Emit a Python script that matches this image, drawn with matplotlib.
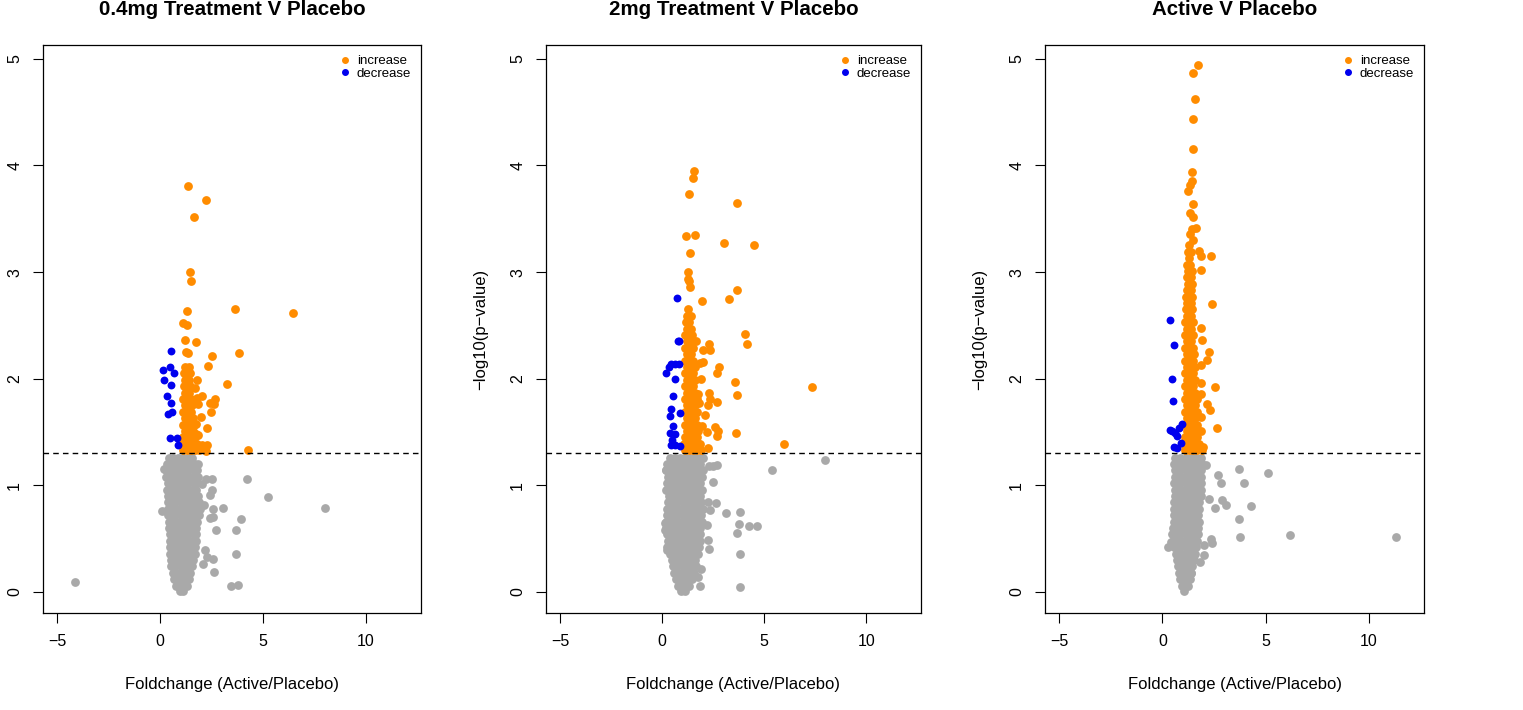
import matplotlib
matplotlib.use("Agg")
import matplotlib.pyplot as plt
from matplotlib.lines import Line2D

plt.rcParams['font.family'] = ['Liberation Sans', 'DejaVu Sans']

titles = ["0.4mg Treatment V Placebo", "2mg Treatment V Placebo", "Active V Placebo"]
xlabel = "Foldchange (Active/Placebo)"
ylabel = "\u2212log10(p\u2212value)"
x_ticks = [-5, 0, 5, 10]
y_ticks = [0, 1, 2, 3, 4, 5]
threshold = 1.301
legend_labels = ["increase", "decrease"]

# ---------------- Panel 1 : 0.4mg ----------------
p1_grey_rows = [
    (1.26, [0.45, 0.63, 0.88, 1.13, 1.38, 1.55]),
    (1.20, [0.35, 0.50, 0.75, 1.00, 1.25, 1.50, 1.70]),
    (1.14, [0.30, 0.38, 0.63, 0.88, 1.13, 1.38, 1.63, 1.80]),
    (1.08, [0.30, 0.50, 0.75, 1.00, 1.25, 1.50, 1.75, 1.85]),
    (1.02, [0.38, 0.63, 0.88, 1.13, 1.38, 1.63, 1.80]),
    (0.96, [0.35, 0.50, 0.75, 1.00, 1.25, 1.50, 1.75]),
    (0.90, [0.38, 0.63, 0.88, 1.13, 1.38, 1.63, 1.85]),
    (0.84, [0.40, 0.50, 0.75, 1.00, 1.25, 1.50, 1.75, 1.90]),
    (0.78, [0.40, 0.63, 0.88, 1.13, 1.38, 1.63, 1.88, 1.95]),
    (0.72, [0.40, 0.50, 0.75, 1.00, 1.25, 1.50, 1.75, 1.90]),
    (0.66, [0.45, 0.63, 0.88, 1.13, 1.38, 1.63, 1.80]),
    (0.60, [0.45, 0.50, 0.75, 1.00, 1.25, 1.50, 1.75]),
    (0.54, [0.50, 0.63, 0.88, 1.13, 1.38, 1.63, 1.75]),
    (0.48, [0.50, 0.75, 1.00, 1.25, 1.50, 1.75]),
    (0.42, [0.50, 0.63, 0.88, 1.13, 1.38, 1.63, 1.70]),
    (0.36, [0.50, 0.75, 1.00, 1.25, 1.50, 1.70]),
    (0.30, [0.55, 0.63, 0.88, 1.13, 1.38, 1.60]),
    (0.24, [0.55, 0.75, 1.00, 1.25, 1.50, 1.55]),
    (0.18, [0.65, 0.88, 1.13, 1.38, 1.45]),
    (0.12, [0.70, 0.75, 1.00, 1.25, 1.40]),
    (0.06, [0.80, 0.88, 1.13, 1.30]),
    (0.01, [0.95, 1.10]),
]
p1_grey_x = [-4.13, 4.22, 5.24, 8.00, 0.11, 3.04, 2.59, 3.93, 2.70, 3.70, 3.70, 2.62, 3.46, 3.79,
             2.20, 2.59, 2.27, 2.09, 2.51, 2.43, 2.02, 2.23, 2.54, 1.86, 0.18, 2.14, 2.56, 2.41]
p1_grey_y = [0.09, 1.06, 0.89, 0.79, 0.76, 0.79, 0.78, 0.68, 0.58, 0.58, 0.36, 0.19, 0.06, 0.07,
             0.39, 0.31, 0.33, 0.26, 0.96, 0.91, 1.01, 1.06, 1.06, 1.20, 1.15, 0.82, 0.70, 0.69]
p1_up_rows = [
    (1.33, [1.10, 1.30, 1.50, 1.70, 1.90]),
    (1.39, [1.05, 1.20, 1.40, 1.60, 1.80]),
    (1.45, [1.10, 1.30, 1.50, 1.70]),
    (1.51, [1.20, 1.40, 1.60]),
    (1.57, [1.10, 1.30, 1.50, 1.65]),
    (1.63, [1.20, 1.40, 1.60]),
    (1.69, [1.10, 1.30, 1.50]),
    (1.75, [1.20, 1.40, 1.55]),
    (1.81, [1.10, 1.30, 1.50]),
    (1.87, [1.20, 1.40]),
    (1.93, [1.15, 1.30, 1.45]),
    (1.99, [1.20, 1.40]),
    (2.05, [1.15, 1.30, 1.45]),
    (2.11, [1.20, 1.40]),
]
p1_up_x = [1.37, 2.23, 1.67, 1.46, 1.50, 1.29, 3.62, 6.47, 1.13, 1.33, 1.21, 1.75, 1.25, 1.37,
           3.82, 2.51, 2.31, 1.78, 3.27, 1.70, 2.05, 1.78, 2.67, 2.43, 2.64, 1.86, 2.46, 1.99,
           1.76, 2.28, 1.76, 1.83, 2.05, 2.27, 2.23, 4.27]
p1_up_y = [3.81, 3.68, 3.52, 3.00, 2.92, 2.64, 2.65, 2.62, 2.52, 2.50, 2.36, 2.34, 2.25, 2.24,
           2.24, 2.21, 2.12, 1.99, 1.95, 1.91, 1.84, 1.82, 1.81, 1.77, 1.76, 1.76, 1.69, 1.64,
           1.58, 1.54, 1.48, 1.47, 1.38, 1.38, 1.32, 1.33]
p1_down_x = [0.53, 0.50, 0.13, 0.69, 0.18, 0.52, 0.33, 0.55, 0.60, 0.40, 0.83, 0.50, 0.86]
p1_down_y = [2.26, 2.11, 2.08, 2.05, 1.99, 1.94, 1.84, 1.77, 1.69, 1.67, 1.44, 1.44, 1.38]

# ---------------- Panel 2 : 2mg ----------------
p2_grey_rows = [
    (1.26, [0.40, 0.63, 0.88, 1.13, 1.38, 1.63, 1.88, 2.00]),
    (1.20, [0.25, 0.50, 0.75, 1.00, 1.25, 1.50, 1.75, 1.85]),
    (1.14, [0.20, 0.38, 0.63, 0.88, 1.13, 1.38, 1.63, 1.88, 2.00]),
    (1.08, [0.30, 0.50, 0.75, 1.00, 1.25, 1.50, 1.75, 1.95]),
    (1.02, [0.25, 0.38, 0.63, 0.88, 1.13, 1.38, 1.63, 1.88]),
    (0.96, [0.20, 0.50, 0.75, 1.00, 1.25, 1.50, 1.75, 1.95]),
    (0.90, [0.35, 0.63, 0.88, 1.13, 1.38, 1.63, 1.88]),
    (0.84, [0.30, 0.50, 0.75, 1.00, 1.25, 1.50, 1.75, 1.90]),
    (0.78, [0.25, 0.38, 0.63, 0.88, 1.13, 1.38, 1.63, 1.88, 2.00]),
    (0.72, [0.25, 0.50, 0.75, 1.00, 1.25, 1.50, 1.75, 1.90]),
    (0.66, [0.20, 0.38, 0.63, 0.88, 1.13, 1.38, 1.63, 1.88, 1.95]),
    (0.60, [0.20, 0.50, 0.75, 1.00, 1.25, 1.50, 1.75, 1.85]),
    (0.54, [0.25, 0.38, 0.63, 0.88, 1.13, 1.38, 1.63, 1.85]),
    (0.48, [0.30, 0.50, 0.75, 1.00, 1.25, 1.50, 1.75, 1.85]),
    (0.42, [0.25, 0.38, 0.63, 0.88, 1.13, 1.38, 1.63, 1.80]),
    (0.36, [0.40, 0.50, 0.75, 1.00, 1.25, 1.50, 1.75]),
    (0.30, [0.50, 0.63, 0.88, 1.13, 1.38, 1.63]),
    (0.24, [0.55, 0.75, 1.00, 1.25, 1.50, 1.65]),
    (0.18, [0.60, 0.88, 1.13, 1.38, 1.55]),
    (0.12, [0.70, 0.75, 1.00, 1.25, 1.45]),
    (0.06, [0.80, 0.88, 1.13, 1.30]),
    (0.01, [0.95, 1.10]),
]
p2_grey_x = [7.96, 5.40, 2.67, 2.51, 2.30, 2.48, 2.65, 3.12, 3.80, 3.75, 4.26, 4.63, 3.66, 3.80,
             3.79, 1.88, 2.30, 2.23, 2.18, 2.23, 2.35, 1.91, 1.78, 0.19, 0.22, 0.16, 0.16, 0.25]
p2_grey_y = [1.24, 1.14, 1.19, 1.18, 1.18, 1.03, 0.83, 0.74, 0.75, 0.64, 0.62, 0.62, 0.55, 0.36,
             0.05, 0.06, 0.40, 0.49, 0.63, 0.84, 0.77, 0.22, 0.14, 1.14, 0.96, 0.65, 0.58, 0.39]
p2_up_rows = [
    (1.33, [1.10, 1.30, 1.50, 1.70, 1.90]),
    (1.39, [1.05, 1.20, 1.40, 1.60, 1.80]),
    (1.45, [1.10, 1.30, 1.50, 1.70]),
    (1.51, [1.20, 1.40, 1.60, 1.75]),
    (1.57, [1.10, 1.30, 1.50, 1.70]),
    (1.63, [1.20, 1.40, 1.60]),
    (1.69, [1.10, 1.30, 1.50, 1.70]),
    (1.75, [1.20, 1.40, 1.60]),
    (1.81, [1.10, 1.30, 1.50, 1.70]),
    (1.87, [1.20, 1.40, 1.60]),
    (1.93, [1.10, 1.30, 1.50]),
    (1.99, [1.20, 1.40, 1.60]),
    (2.05, [1.10, 1.30, 1.50]),
    (2.11, [1.20, 1.40, 1.60]),
    (2.17, [1.10, 1.30, 1.50]),
    (2.23, [1.20, 1.40]),
    (2.29, [1.10, 1.30, 1.50]),
    (2.35, [1.20, 1.40]),
    (2.41, [1.10, 1.30, 1.45]),
    (2.47, [1.20, 1.40]),
    (2.53, [1.15, 1.30]),
    (2.59, [1.20, 1.40]),
    (2.65, [1.25]),
]
p2_up_x = [1.54, 1.50, 1.33, 3.67, 1.18, 1.59, 3.04, 4.48, 1.39, 1.26, 1.25, 1.33, 1.38, 3.67,
           3.27, 1.96, 4.08, 4.16, 1.68, 2.31, 2.02, 2.36, 1.86, 1.99, 2.78, 2.68, 1.91, 3.58,
           7.35, 2.28, 3.67, 2.36, 2.67, 1.78, 1.81, 2.23, 2.12, 1.94, 2.59, 2.18, 2.75, 2.67,
           3.63, 2.23, 1.86, 5.96]
p2_up_y = [3.95, 3.88, 3.73, 3.65, 3.34, 3.35, 3.27, 3.25, 3.18, 3.00, 2.94, 2.92, 2.86, 2.83,
           2.75, 2.73, 2.42, 2.33, 2.35, 2.33, 2.27, 2.27, 2.15, 2.16, 2.11, 2.05, 2.00, 1.97,
           1.92, 1.87, 1.85, 1.81, 1.78, 1.86, 1.77, 1.75, 1.66, 1.56, 1.55, 1.50, 1.51, 1.46,
           1.49, 1.35, 1.39, 1.39]
p2_down_x = [0.73, 0.78, 0.84, 0.62, 0.45, 0.84, 0.33, 0.18, 0.62, 0.52, 0.44, 0.40, 0.86, 0.52,
             0.37, 0.63, 0.49, 0.45, 0.62, 0.86]
p2_down_y = [2.76, 2.35, 2.35, 2.14, 2.14, 2.14, 2.11, 2.05, 2.00, 1.84, 1.72, 1.65, 1.68, 1.56,
             1.49, 1.48, 1.43, 1.38, 1.38, 1.37]

# ---------------- Panel 3 : Active ----------------
p3_grey_rows = [
    (1.26, [0.63, 0.88, 1.13, 1.38, 1.63, 1.85]),
    (1.20, [0.55, 0.75, 1.00, 1.25, 1.50, 1.75, 1.90]),
    (1.14, [0.63, 0.88, 1.13, 1.38, 1.63, 1.85]),
    (1.08, [0.60, 0.75, 1.00, 1.25, 1.50, 1.75, 1.85]),
    (1.02, [0.55, 0.63, 0.88, 1.13, 1.38, 1.63, 1.85]),
    (0.96, [0.60, 0.75, 1.00, 1.25, 1.50, 1.75, 1.85]),
    (0.90, [0.63, 0.88, 1.13, 1.38, 1.63, 1.85]),
    (0.84, [0.55, 0.75, 1.00, 1.25, 1.50, 1.75, 1.80]),
    (0.78, [0.55, 0.63, 0.88, 1.13, 1.38, 1.63, 1.80]),
    (0.72, [0.55, 0.75, 1.00, 1.25, 1.50, 1.75]),
    (0.66, [0.55, 0.63, 0.88, 1.13, 1.38, 1.63, 1.80]),
    (0.60, [0.50, 0.75, 1.00, 1.25, 1.50, 1.75]),
    (0.54, [0.45, 0.63, 0.88, 1.13, 1.38, 1.63, 1.75]),
    (0.48, [0.50, 0.75, 1.00, 1.25, 1.50, 1.70]),
    (0.42, [0.55, 0.63, 0.88, 1.13, 1.38, 1.63]),
    (0.36, [0.65, 0.75, 1.00, 1.25, 1.50, 1.60]),
    (0.30, [0.70, 0.88, 1.13, 1.38, 1.55]),
    (0.24, [0.75, 1.00, 1.25, 1.45]),
    (0.18, [0.80, 0.88, 1.13, 1.38, 1.40]),
    (0.12, [0.85, 1.00, 1.25, 1.35]),
    (0.06, [0.95, 1.13, 1.25]),
    (0.01, [1.05]),
]
p3_grey_x = [3.69, 5.13, 2.70, 2.82, 3.95, 2.27, 2.90, 3.06, 2.53, 4.31, 3.69, 2.34, 2.42, 3.77,
             6.18, 11.33, 2.02, 2.02, 1.81, 0.28, 0.44, 2.10]
p3_grey_y = [1.15, 1.12, 1.10, 1.02, 1.02, 0.87, 0.86, 0.82, 0.79, 0.81, 0.68, 0.50, 0.46, 0.52,
             0.53, 0.52, 0.44, 0.35, 0.28, 0.42, 0.47, 1.19]
p3_up_rows = [
    (1.33, [1.10, 1.30, 1.50, 1.70, 1.90]),
    (1.39, [1.05, 1.20, 1.40, 1.60, 1.80]),
    (1.45, [1.10, 1.30, 1.50, 1.70]),
    (1.51, [1.20, 1.40, 1.60, 1.75]),
    (1.57, [1.10, 1.30, 1.50, 1.70]),
    (1.63, [1.20, 1.40, 1.60]),
    (1.69, [1.10, 1.30, 1.50, 1.70]),
    (1.75, [1.20, 1.40, 1.60]),
    (1.81, [1.10, 1.30, 1.50, 1.70]),
    (1.87, [1.20, 1.40, 1.60]),
    (1.93, [1.10, 1.30, 1.50]),
    (1.99, [1.20, 1.40, 1.60]),
    (2.05, [1.10, 1.30, 1.50]),
    (2.11, [1.20, 1.40, 1.60]),
    (2.17, [1.10, 1.30, 1.50]),
    (2.23, [1.20, 1.40, 1.55]),
    (2.29, [1.10, 1.30, 1.50]),
    (2.35, [1.20, 1.40]),
    (2.41, [1.10, 1.30, 1.50]),
    (2.47, [1.20, 1.40]),
    (2.53, [1.10, 1.30, 1.50]),
    (2.59, [1.20, 1.40]),
    (2.65, [1.15, 1.30, 1.45]),
    (2.71, [1.20, 1.40]),
    (2.77, [1.15, 1.30, 1.45]),
    (2.83, [1.20, 1.40]),
    (2.89, [1.25, 1.45]),
    (2.95, [1.20, 1.40]),
    (3.01, [1.25, 1.45]),
    (3.07, [1.20, 1.35]),
    (3.13, [1.30]),
    (3.19, [1.25, 1.40]),
    (3.25, [1.30]),
]
p3_up_x = [1.75, 1.50, 1.57, 1.50, 1.50, 1.44, 1.42, 1.33, 1.26, 1.49, 1.34, 1.50, 1.42, 1.62,
           1.33, 1.49, 1.78, 1.86, 2.36, 1.86, 2.41, 1.89, 1.91, 2.27, 2.18, 1.89, 2.56, 1.89,
           1.86, 2.15, 2.33, 2.63, 1.89, 1.97, 1.86]
p3_up_y = [4.94, 4.87, 4.62, 4.44, 4.15, 3.94, 3.85, 3.82, 3.76, 3.64, 3.55, 3.52, 3.40, 3.41,
           3.36, 3.30, 3.20, 3.15, 3.15, 3.02, 2.70, 2.48, 2.36, 2.25, 2.18, 2.13, 1.92, 1.96,
           1.86, 1.76, 1.71, 1.54, 1.51, 1.36, 1.64]
p3_down_x = [0.37, 0.58, 0.45, 0.52, 0.36, 0.49, 0.61, 0.73, 0.81, 0.94, 0.57, 0.69, 0.92]
p3_down_y = [2.55, 2.32, 2.00, 1.79, 1.52, 1.51, 1.49, 1.46, 1.54, 1.58, 1.36, 1.35, 1.40]

GREY = "#A9A9A9"
ORANGE = "#FF8C00"
BLUE = "#0000EE"


def expand(rows):
    xs, ys = [], []
    for y, row in rows:
        for x in row:
            xs.append(x)
            ys.append(y)
    return xs, ys


panels = [
    (p1_grey_rows, p1_grey_x, p1_grey_y, p1_up_rows, p1_up_x, p1_up_y, p1_down_x, p1_down_y),
    (p2_grey_rows, p2_grey_x, p2_grey_y, p2_up_rows, p2_up_x, p2_up_y, p2_down_x, p2_down_y),
    (p3_grey_rows, p3_grey_x, p3_grey_y, p3_up_rows, p3_up_x, p3_up_y, p3_down_x, p3_down_y),
]

fig = plt.figure(figsize=(15.23, 7.10), dpi=100)
lefts = [43, 546, 1045]
rights = [421, 921, 1424]
W, H = 1523.0, 710.0
ms = 40

for i, (gr, gx, gy, ur, ux, uy, dx, dy) in enumerate(panels):
    ax = fig.add_axes([lefts[i] / W, (H - 613) / H, (rights[i] - lefts[i]) / W, (613 - 45) / H])
    bx, by = expand(gr)
    ax.scatter(bx + gx, by + gy, s=ms, c=GREY, linewidths=0, zorder=2)
    ox, oy = expand(ur)
    ax.scatter(ox + ux, oy + uy, s=ms, c=ORANGE, linewidths=0, zorder=3)
    ax.scatter(dx, dy, s=ms * 0.8, c=BLUE, linewidths=0, zorder=3)
    ax.axhline(threshold, color="black", linestyle=(0, (4, 3)), linewidth=1.0, zorder=4)
    ax.set_xlim(-5.68, 12.67)
    ax.set_ylim(-0.197, 5.13)
    ax.set_xticks(x_ticks)
    ax.set_yticks(y_ticks)
    ax.tick_params(direction="out", length=7, width=0.8, labelsize=11.5, pad=8)
    for lab in ax.get_yticklabels():
        lab.set_rotation(90)
        lab.set_va("center")
    for sp in ax.spines.values():
        sp.set_linewidth(0.9)
    ax.set_xlabel(xlabel, fontsize=12, labelpad=20)
    if i > 0:
        ax.set_ylabel(ylabel, fontsize=12, labelpad=16)
    cx = (lefts[i] + rights[i]) / 2.0 / W
    fig.text(cx, (H - 15) / H, titles[i], ha="center", va="baseline",
             fontsize=14.8, fontweight="bold")
    handles = [Line2D([0], [0], marker="o", linestyle="none", color=ORANGE, markersize=4),
               Line2D([0], [0], marker="o", linestyle="none", color=BLUE, markersize=4)]
    ax.legend(handles, legend_labels, loc="upper right", frameon=False, fontsize=9.5,
              handlelength=0.8, handletextpad=0.5, labelspacing=0.05, borderaxespad=0.35)

fig.savefig("out.png", dpi=100)
